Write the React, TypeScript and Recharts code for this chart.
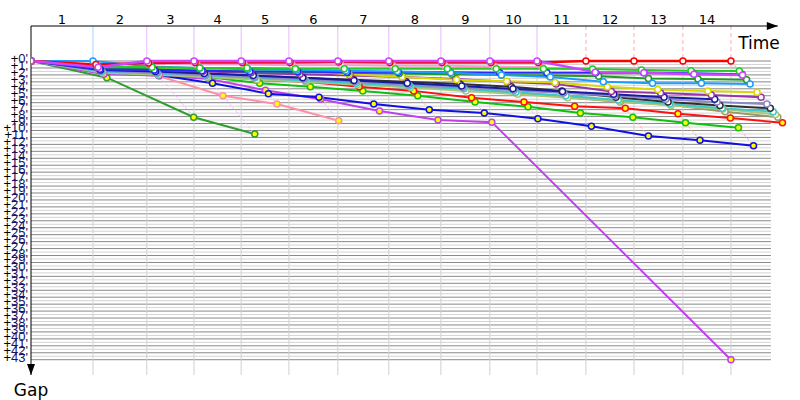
import React from "react";
import { LineChart, Line, XAxis, YAxis, ReferenceLine, ReferenceDot } from "recharts";

// leader crossing times per lap (minutes from start)
const leaderTimes = [10.7, 20.0, 28.15, 36.3, 44.55, 53.0, 61.8, 70.8, 79.25, 87.4, 95.85, 104.15, 112.6, 120.9];
const lapLabels = ["1", "2", "3", "4", "5", "6", "7", "8", "9", "10", "11", "12", "13", "14"];
const gapTicks = Array.from({ length: 44 }, (_, i) => i);

// gap to leader (minutes) at the end of each lap, null = no crossing
const redGaps = [0.5, 0.3, 0.2, 0.2, 0.2, 0.15, 0.2, 0.2, 0.2, 0.2, 0, 0, 0, 0];
const magentaGaps = [0.9, 0, 0, 0, 0, 0, 0, 0, 0, 0, 1.6, 1.7, 1.9, 2.0];
const skyGaps = [0, 0.8, 1.0, 1.2, 1.3, 1.4, 1.5, 1.7, 2.0, 2.3, 3.0, 3.2, 3.2, 3.3];
const greenGaps = [0.8, 0.9, 1.0, 1.0, 1.1, 1.1, 1.1, 1.1, 1.1, 1.1, 1.15, 1.3, 1.4, 1.44];
const blueGaps = [1.2, 1.3, 1.4, 1.5, 1.5, 1.6, 1.6, 1.6, 1.7, 1.7, 1.7, 1.7, 1.75, 1.9];
const darkGreenGaps = [1.0, 1.2, 1.4, 1.5, 1.6, 1.7, 1.8, 1.9, 2.0, 2.1, 2.2, 2.5, 2.6, 2.7];
const pinkLightGaps = [0.6, 0.4, 0.5, 0.5, 0.6, 0.6, 0.7, 0.7, 0.8, 0.9, null, null, null, null];
const yellowGaps = [0.9, 1.0, 1.1, 1.2, 1.3, 1.9, 2.3, 2.7, 2.9, 3.1, 3.7, 4.1, 4.3, 4.5];
const purpleGaps = [1.1, 1.3, 1.5, 1.7, 1.9, 2.1, 2.3, 2.6, 3.0, 3.3, 4.4, 4.6, 4.9, 5.2];
const navyGaps = [1.3, 1.5, 1.8, 2.1, 2.4, 2.8, 3.2, 3.6, 4.0, 4.4, 4.8, 5.2, 5.5, null];
const lavenderGaps = [1.4, 1.7, 2.0, 2.3, 2.6, 3.0, 3.4, 3.8, 4.2, 4.6, 5.0, 5.5, 5.9, 6.2];
const blackGaps = [1.2, 1.5, 1.8, 2.1, 2.4, 2.7, 3.0, 3.3, 3.7, 4.3, 5.2, 5.9, 6.4, 6.8];
const tealGaps = [1.5, 1.8, 2.1, 2.4, 2.8, 3.2, 3.6, 4.0, 4.5, 5.0, 5.6, 6.2, 6.8, 7.3];
const khakiGaps = [1.7, 2.0, 2.3, 2.7, 3.0, 3.4, 3.8, 4.3, 4.8, 5.3, 5.8, 6.4, 6.9, 7.7];
const oliveGaps = [1.6, 1.9, 2.2, 2.5, 2.8, 3.2, 3.6, 4.0, 4.6, 5.2, 5.9, 6.3, 7.3, 8.1];
const red2Gaps = [0.9, 1.2, 1.9, 2.7, 3.0, 3.7, 4.3, 5.3, 5.9, 6.5, 6.8, 7.6, 8.2, 8.9];
const green2Gaps = [1.0, 1.5, 2.3, 3.2, 3.7, 4.3, 5.0, 5.9, 6.6, 7.5, 8.1, 8.9, 9.6, null];
const blue2Gaps = [1.6, 2.0, 3.2, 4.7, 5.2, 6.2, 7.0, 7.5, 8.3, 9.4, 10.8, 11.4, 12.2, null];
const violetGaps = [1.9, 2.1, 2.6, 4.2, 5.5, 7.2, 8.5, 8.8, null, null, null, null, null, null];
const pinkGaps = [1.5, 2.2, 5.0, 6.2, 8.6, null, null, null, null, null, null, null, null, null];
const greenLowGaps = [2.4, 8.1, 10.5, null, null, null, null, null, null, null, null, null, null, null];
// last shown position of the violet car (at leader lap 14)
const violetOut = { lap: 14, gap: 43 };

const drivers = [
  { id: "greenLow", color: "#2e9e2e", light: "#b8e0b8", fill: "#ffff00", gaps: greenLowGaps },
  { id: "pink", color: "#ff8fa8", light: "#ffd0dc", fill: "#ffff00", gaps: pinkGaps },
  { id: "violet", color: "#c040f0", light: "#efc0ff", fill: "#ffff00", gaps: violetGaps, out: violetOut },
  { id: "blue2", color: "#1010e0", light: "#b0b0ff", fill: "#ffff00", gaps: blue2Gaps },
  { id: "green2", color: "#10c010", light: "#b0f0b0", fill: "#ffff00", gaps: green2Gaps },
  { id: "red2", color: "#ff1010", light: "#ffb0b0", fill: "#ffff00", gaps: red2Gaps },
  { id: "olive", color: "#999966", light: "#ddddcc", fill: "#ffffff", gaps: oliveGaps },
  { id: "khaki", color: "#a8c878", light: "#e0f0d0", fill: "#ffffff", gaps: khakiGaps },
  { id: "teal", color: "#40c8c8", light: "#c0f0f0", fill: "#ffffff", gaps: tealGaps },
  { id: "black", color: "#303030", light: "#c0c0c0", fill: "#ffffff", gaps: blackGaps },
  { id: "lavender", color: "#8a8ac8", light: "#d8d8f0", fill: "#ffffff", gaps: lavenderGaps },
  { id: "navy", color: "#1a1aa0", light: "#c0c0f0", fill: "#ffffff", gaps: navyGaps },
  { id: "purple", color: "#9933aa", light: "#e0c0e8", fill: "#ffffff", gaps: purpleGaps },
  { id: "yellow", color: "#d8d800", light: "#f0f0b0", fill: "#ffffff", gaps: yellowGaps },
  { id: "pinkLight", color: "#ff99cc", light: "#ffd8ec", fill: "#ffffff", gaps: pinkLightGaps },
  { id: "darkGreen", color: "#229922", light: "#c0e8c0", fill: "#ffffff", gaps: darkGreenGaps },
  { id: "blue", color: "#2a2aff", light: "#c0c0ff", fill: "#ffffff", gaps: blueGaps },
  { id: "sky", color: "#1e9bff", light: "#a8d4ff", fill: "#ffffff", gaps: skyGaps },
  { id: "green", color: "#22cc22", light: "#c0f0c0", fill: "#ffffff", gaps: greenGaps },
  { id: "red", color: "#ff0000", light: "#ffaaaa", fill: "#ffffff", gaps: redGaps },
  { id: "magenta", color: "#cc44ff", light: "#eab8ff", fill: "#ffffff", gaps: magentaGaps },
];

const Y_TOP = -5.04;
const Y_BOTTOM = 45.2;
const X_MAX = 131.1;
const GRID_END = 127.8;
const AXIS_END = 129.0;

const seriesOf = (d: any) => {
  const pts: any[] = [{ t: 0, g: 0 }];
  d.gaps.forEach((g: number | null, i: number) => {
    if (g != null) pts.push({ t: leaderTimes[i] + g, g });
  });
  if (d.out) pts.push({ t: leaderTimes[d.out.lap - 1], g: d.out.gap });
  return pts;
};

// one dashed line per lap joining every car's crossing of that lap
const lapLines = leaderTimes.map((L, i) => {
  const pts = drivers
    .filter((d) => d.gaps[i] != null)
    .map((d) => ({ t: L + (d.gaps[i] as number), g: d.gaps[i] as number }))
    .sort((a, b) => a.g - b.g);
  const leader = drivers.find((d) => d.gaps[i] === 0)!;
  return { lap: i + 1, pts, color: leader.light, dashed: leader.id === "red" };
});

const lapMids = leaderTimes.map((L, i) => (i === 0 ? L / 2 : (L + leaderTimes[i - 1]) / 2));

const hLines: number[] = [];
for (let g = 0; g <= 43; g += 0.5) hLines.push(g);

const font = "DejaVu Sans, Verdana, sans-serif";
const tickFont = "Liberation Sans, Arial, sans-serif";

const GapTick = ({ x, y, payload }: any) => (
  <text x={x} y={y} dy={2} textAnchor="end" fontSize={13} fontFamily={tickFont}>
    <tspan fill="#000">+</tspan>
    <tspan fill="#1a1466">{payload.value}'</tspan>
  </text>
);

const ArrowRight = ({ cx, cy }: any) => (
  <g>
    <path d={`M${cx},${cy} l-11,-4 l0,8 z`} fill="#000" />
    <text x={cx + 2} y={cy + 23} textAnchor="end" fontSize={17} fontFamily={font} fill="#000">
      Time
    </text>
  </g>
);

const ArrowDown = ({ cx, cy }: any) => (
  <g>
    <path d={`M${cx},${cy} l-4,-11 l8,0 z`} fill="#000" />
    <text x={cx} y={cy + 21} textAnchor="middle" fontSize={17} fontFamily={font} fill="#000">
      Gap
    </text>
  </g>
);

export default function App() {
  return (
    <div style={{ position: "absolute", left: 0, top: 0, background: "#fff" }}>
      <LineChart width={800} height={400} margin={{ top: 0, right: 10, bottom: 25, left: 0 }}>
        <XAxis
          xAxisId={0}
          type="number"
          dataKey="t"
          orientation="top"
          height={26}
          domain={[0, X_MAX]}
          allowDataOverflow
          ticks={lapMids}
          tickFormatter={(v: number) => lapLabels[lapMids.indexOf(v)]}
          axisLine={false}
          tickLine={false}
          tickSize={0}
          tickMargin={2}
          interval={0}
          tick={{ fill: "#000", fontSize: 13, fontFamily: font }}
        />
        <YAxis
          type="number"
          dataKey="g"
          width={31}
          reversed
          domain={[Y_TOP, Y_BOTTOM]}
          allowDataOverflow
          ticks={gapTicks}
          interval={0}
          axisLine={{ stroke: "#000", strokeWidth: 1 }}
          tickLine={false}
          tickSize={0}
          tickMargin={3}
          tick={<GapTick />}
        />

        {hLines.map((g) => (
          <ReferenceLine
            key={`h${g}`}
            segment={[{ x: 0, y: g }, { x: GRID_END, y: g }]}
            stroke={g % 1 === 0 ? "#888888" : "#d4d4d4"}
            strokeWidth={1}
          />
        ))}
        {leaderTimes.map((L) => (
          <ReferenceLine
            key={`v${L}`}
            segment={[{ x: L, y: 0 }, { x: L, y: Y_BOTTOM }]}
            stroke="#d0d0d0"
            strokeWidth={1}
          />
        ))}
        {lapLines.map((l, i) => (
          <ReferenceLine
            key={`lv${l.lap}`}
            segment={[{ x: leaderTimes[i], y: Y_TOP }, { x: leaderTimes[i], y: 0 }]}
            stroke={l.color}
            strokeWidth={1}
            strokeDasharray={l.dashed ? "4 3" : undefined}
          />
        ))}
        <ReferenceLine segment={[{ x: 0, y: Y_TOP }, { x: AXIS_END, y: Y_TOP }]} stroke="#000" strokeWidth={1} />

        {lapLines.map((l) => (
          <Line
            key={`lap${l.lap}`}
            data={l.pts}
            dataKey="g"
            stroke={l.color}
            strokeWidth={1}
            strokeDasharray="3 2"
            dot={false}
            isAnimationActive={false}
          />
        ))}

        {drivers.map((d) => (
          <Line
            key={d.id}
            data={seriesOf(d)}
            dataKey="g"
            stroke={d.color}
            strokeWidth={d.id === "red" || d.id === "magenta" ? 2.5 : 2}
            dot={{ r: 3, fill: d.fill, stroke: d.color, strokeWidth: 1.5 }}
            isAnimationActive={false}
          />
        ))}

        <ReferenceDot x={AXIS_END} y={Y_TOP} ifOverflow="visible" shape={<ArrowRight />} />
        <ReferenceDot x={0} y={Y_BOTTOM} ifOverflow="visible" shape={<ArrowDown />} />
      </LineChart>
    </div>
  );
}
